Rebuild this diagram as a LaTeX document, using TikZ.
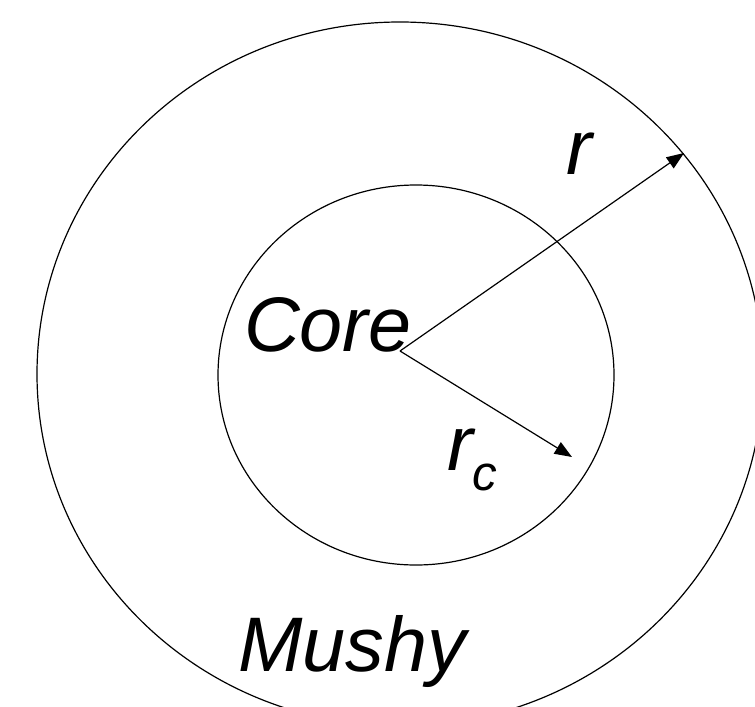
\documentclass[tikz,border=0pt]{standalone}
\usepackage{fontspec}
\setmainfont{Liberation Sans}
\usetikzlibrary{arrows.meta}
\tikzset{
  px/.style={x=0.75pt,y=-0.75pt},
  ring/.style={draw=black,line width=0.9pt},
  radius arrow/.style={draw=black,line width=0.9pt,-{Triangle[length=13pt,width=10pt]}},
  lbl/.style={inner sep=0pt,outer sep=0pt,anchor=base west,font=\fontsize{58}{58}\selectfont\itshape}
}
\begin{document}
\begin{tikzpicture}[px]
\useasboundingbox (0,0) rectangle (755,706);
\clip (0,0) rectangle (755,706);
\fill[white] (0,0) rectangle (755,706);
\coordinate (oc) at (400,374);
\coordinate (ic) at (416,375);
\draw[ring] (oc) ellipse [x radius=272.25pt, y radius=264pt];
\draw[ring] (ic) ellipse [x radius=148.5pt, y radius=142.5pt];
\coordinate (origin) at (400,351);
\coordinate (rtip) at (684,153);
\coordinate (rctip) at (572,457);
\draw[radius arrow] (origin) -- (rtip);
\draw[radius arrow] (origin) -- (rctip);
\node[lbl] (core) at (244,351) {Core};
\node[lbl] (r) at (566,174) {r};
\node[lbl] (rc) at (447,470) {r\raisebox{-15pt}{\fontsize{37}{37}\selectfont c}};
\node[lbl] (mushy) at (238,671) {Mushy};
\end{tikzpicture}
\end{document}
